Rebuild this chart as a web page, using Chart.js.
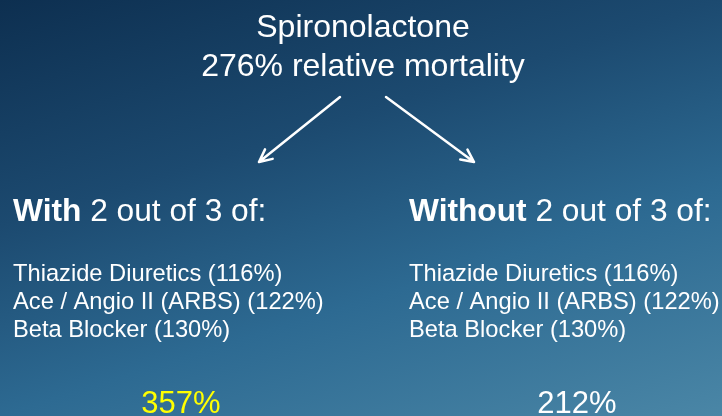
<!DOCTYPE html>
<html>
<head>
<meta charset="utf-8">
<script src="https://cdn.jsdelivr.net/npm/chart.js@4"></script>
<style>
  html, body { margin: 0; padding: 0; background: #0d2f50; }
  #wrap { width: 722px; height: 416px; }
</style>
</head>
<body>
<div id="wrap"><canvas id="slide" width="722" height="416"></canvas></div>
<script>
// datos de la diapositiva
var baseDrug = 'Spironolactone';
var baseRate = 276;
var groupNames = ['With', 'Without'];
var groupRates = [357, 212];
var drugNames = ['Thiazide Diuretics', 'Ace / Angio II (ARBS)', 'Beta Blocker'];
var drugRates = [116, 122, 130];

var FONT = '"Liberation Sans", Arial, sans-serif';

// fondo degradado azul
var fondo = {
  id: 'fondo',
  beforeDraw: function(chart) {
    var ctx = chart.ctx, w = chart.width, h = chart.height;
    var g = ctx.createLinearGradient(0, 0, 216, 688);
    g.addColorStop(0, '#0d2f50');
    g.addColorStop(0.3, '#1c4a70');
    g.addColorStop(0.55, '#2d6a92');
    g.addColorStop(0.85, '#4a86a6');
    g.addColorStop(1, '#5290b0');
    ctx.save();
    ctx.fillStyle = g;
    ctx.fillRect(0, 0, w, h);
    ctx.restore();
  }
};

function flecha(ctx, x1, y1, x2, y2) {
  var ang = Math.atan2(y2 - y1, x2 - x1);
  var len = 14;
  ctx.beginPath();
  ctx.moveTo(x1, y1);
  ctx.lineTo(x2, y2);
  ctx.moveTo(x2 - len * Math.cos(ang - 0.45), y2 - len * Math.sin(ang - 0.45));
  ctx.lineTo(x2, y2);
  ctx.lineTo(x2 - len * Math.cos(ang + 0.45), y2 - len * Math.sin(ang + 0.45));
  ctx.stroke();
}

// textos y flechas
var textos = {
  id: 'textos',
  afterDraw: function(chart) {
    var ctx = chart.ctx;
    ctx.save();
    ctx.fillStyle = '#ffffff';
    ctx.textBaseline = 'alphabetic';

    // titulo
    ctx.textAlign = 'center';
    ctx.font = '32px ' + FONT;
    ctx.fillText(baseDrug, 363, 37);
    ctx.fillText(baseRate + '% relative mortality', 363, 76);

    // flechas
    ctx.strokeStyle = '#ffffff';
    ctx.lineWidth = 2.5;
    ctx.lineCap = 'round';
    ctx.lineJoin = 'round';
    flecha(ctx, 340, 97, 259, 162);
    flecha(ctx, 386, 97, 474, 162);

    // columnas
    var colX = [13, 409];
    var rateX = [181, 577];
    var rateColor = ['#ffff00', '#ffffff'];
    for (var i = 0; i < groupNames.length; i++) {
      ctx.textAlign = 'left';
      ctx.fillStyle = '#ffffff';
      ctx.font = 'bold 31.7px ' + FONT;
      ctx.fillText(groupNames[i], colX[i], 221);
      var wb = ctx.measureText(groupNames[i]).width;
      ctx.font = '31.7px ' + FONT;
      ctx.fillText(' 2 out of 3 of:', colX[i] + wb, 221);

      ctx.font = '23.7px ' + FONT;
      for (var j = 0; j < drugNames.length; j++) {
        ctx.fillText(drugNames[j] + ' (' + drugRates[j] + '%)', colX[i], 281 + j * 28);
      }

      ctx.textAlign = 'center';
      ctx.font = '31px ' + FONT;
      ctx.fillStyle = rateColor[i];
      ctx.fillText(groupRates[i] + '%', rateX[i], 413);
    }
    ctx.restore();
  }
};

document.addEventListener('DOMContentLoaded', function() {
  var ctx = document.getElementById('slide').getContext('2d');
  var grafico = new Chart(ctx, {
    type: 'bar',
    data: {
      labels: groupNames,
      datasets: [{
        label: 'Relative mortality (%)',
        data: groupRates,
        backgroundColor: 'rgba(0,0,0,0)',
        borderWidth: 0
      }]
    },
    options: {
      responsive: false,
      animation: false,
      layout: { padding: 0 },
      plugins: { legend: { display: false }, tooltip: { enabled: false } },
      scales: { x: { display: false }, y: { display: false, min: 0, max: 1000 } }
    },
    plugins: [fondo, textos]
  });
});
</script>
</body>
</html>
